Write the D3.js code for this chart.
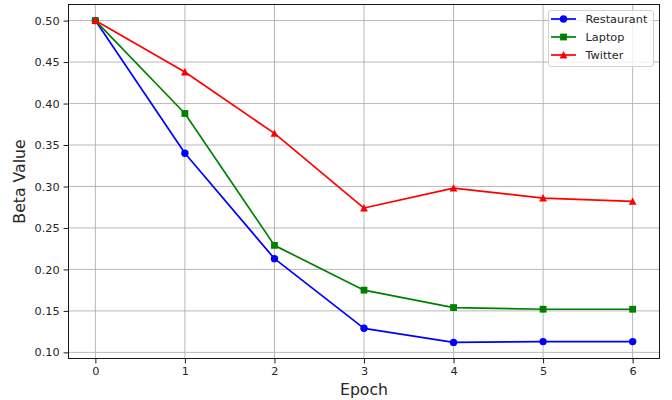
<!DOCTYPE html>
<html>
<head>
<meta charset="utf-8">
<script src="https://cdn.jsdelivr.net/npm/d3@7"></script>
<style>
  html, body { margin: 0; padding: 0; background: #fff; }
  svg { display: block; }
  text { font-family: "DejaVu Sans", sans-serif; fill: #262626; }
</style>
</head>
<body>
<svg id="chart" width="672" height="400"></svg>
<script>
const epochs = [0, 1, 2, 3, 4, 5, 6];
const restaurant = [0.500, 0.340, 0.213, 0.129, 0.112, 0.113, 0.113];
const laptop = [0.500, 0.388, 0.229, 0.175, 0.154, 0.152, 0.152];
const twitter = [0.500, 0.438, 0.364, 0.274, 0.298, 0.286, 0.282];
const seriesNames = ["Restaurant", "Laptop", "Twitter"];
const yTicks = [0.10, 0.15, 0.20, 0.25, 0.30, 0.35, 0.40, 0.45, 0.50];
const xTicks = [0, 1, 2, 3, 4, 5, 6];

const series = [
  { name: seriesNames[0], values: restaurant, color: "#0000ff", marker: "circle" },
  { name: seriesNames[1], values: laptop, color: "#008000", marker: "square" },
  { name: seriesNames[2], values: twitter, color: "#ff0000", marker: "triangle" }
];

const svg = d3.select("#chart");
const pLeft = 68.5, pRight = 659.5, pTop = 4.5, pBottom = 358.5;

const x = d3.scaleLinear().domain([-0.3, 6.3]).range([pLeft, pRight]);
const y = d3.scaleLinear().domain([0.0926, 0.5194]).range([pBottom, pTop]);

// grid
const g = svg.append("g");
g.selectAll(".vgrid").data(xTicks).enter().append("line")
  .attr("x1", d => x(d)).attr("x2", d => x(d))
  .attr("y1", pTop).attr("y2", pBottom)
  .attr("stroke", "#b0b0b0").attr("stroke-width", 0.9);
g.selectAll(".hgrid").data(yTicks).enter().append("line")
  .attr("x1", pLeft).attr("x2", pRight)
  .attr("y1", d => y(d)).attr("y2", d => y(d))
  .attr("stroke", "#b0b0b0").attr("stroke-width", 0.9);

// axes
const xAxis = d3.axisBottom(x).tickValues(xTicks).tickFormat(d3.format("d")).tickSize(4.9).tickPadding(3.9);
const yAxis = d3.axisLeft(y).tickValues(yTicks).tickFormat(d3.format(".2f")).tickSize(4.9).tickPadding(3.9);

const gx = svg.append("g").attr("transform", `translate(0,${pBottom})`).call(xAxis);
const gy = svg.append("g").attr("transform", `translate(${pLeft},0)`).call(yAxis);
[gx, gy].forEach(ax => {
  ax.select(".domain").remove();
  ax.selectAll(".tick line").attr("stroke", "#000").attr("stroke-width", 0.9);
  ax.selectAll(".tick text").attr("font-size", "11.3px").attr("fill", "#262626")
    .style("font-family", "'DejaVu Sans', sans-serif");
});

// frame
svg.append("rect").attr("x", pLeft).attr("y", pTop)
  .attr("width", pRight - pLeft).attr("height", pBottom - pTop)
  .attr("fill", "none").attr("stroke", "#000").attr("stroke-width", 0.9);

// labels
svg.append("text").attr("x", (pLeft + pRight) / 2).attr("y", 395)
  .attr("text-anchor", "middle").attr("font-size", "15.7px").text("Epoch");
svg.append("text").attr("transform", `translate(25,${(pTop + pBottom) / 2}) rotate(-90)`)
  .attr("text-anchor", "middle").attr("font-size", "15.7px").text("Beta Value");

// markers
function drawMarker(sel, type, color) {
  if (type === "circle") {
    sel.append("circle").attr("r", 3.7).attr("fill", color);
  } else if (type === "square") {
    sel.append("rect").attr("x", -3.4).attr("y", -3.4).attr("width", 6.8).attr("height", 6.8).attr("fill", color);
  } else {
    sel.append("path").attr("d", "M0,-4 L3.9,3.4 L-3.9,3.4 Z").attr("fill", color);
  }
}

const line = d3.line().x((d, i) => x(epochs[i])).y(d => y(d));
series.forEach(s => {
  svg.append("path").datum(s.values).attr("d", line)
    .attr("fill", "none").attr("stroke", s.color).attr("stroke-width", 1.7)
    .attr("stroke-linejoin", "round");
  s.values.forEach((v, i) => {
    const m = svg.append("g").attr("transform", `translate(${x(epochs[i])},${y(v)})`);
    drawMarker(m, s.marker, s.color);
  });
});

// legend
const lg = svg.append("g");
lg.append("rect").attr("x", 548.5).attr("y", 10.5).attr("width", 105).attr("height", 56)
  .attr("rx", 2.5).attr("fill", "#fff").attr("fill-opacity", 0.8)
  .attr("stroke", "#cccccc").attr("stroke-width", 0.9);
series.forEach((s, i) => {
  const yy = 19 + i * 18;
  lg.append("line").attr("x1", 551).attr("x2", 576).attr("y1", yy).attr("y2", yy)
    .attr("stroke", s.color).attr("stroke-width", 1.7);
  const m = lg.append("g").attr("transform", `translate(563.5,${yy})`);
  drawMarker(m, s.marker, s.color);
  lg.append("text").attr("x", 585.5).attr("y", yy + 4).attr("font-size", "11.3px").text(s.name);
});
</script>
</body>
</html>
